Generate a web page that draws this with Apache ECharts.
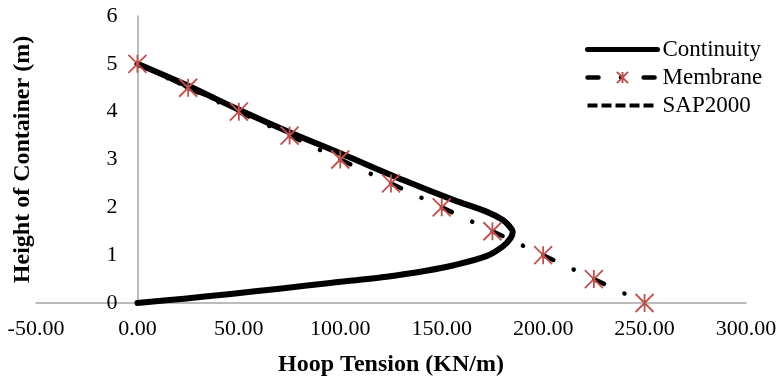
<!DOCTYPE html>
<html><head><meta charset="utf-8">
<script src="https://cdn.jsdelivr.net/npm/echarts@6/dist/echarts.min.js"></script>
<style>html,body{margin:0;padding:0;background:#fff}#c{width:784px;height:381px}</style>
</head><body><div id="c"></div>
<script>
const seriesNames = ['Continuity', 'Membrane', 'SAP2000'];
const continuityX = [0, 23, 46, 70, 95, 123, 143, 156, 172, 180, 184, 185, 183, 180, 172, 156, 131, 100, 75, 50, 25, 0];
const continuityY = [0, 0.09, 0.19, 0.3, 0.42, 0.55, 0.68, 0.79, 0.98, 1.18, 1.36, 1.49, 1.62, 1.74, 1.91, 2.15, 2.57, 3.13, 3.57, 4.04, 4.54, 5];
const membraneX = [0, 25, 50, 75, 100, 125, 150, 175, 200, 225, 250];
const membraneY = [5, 4.5, 4, 3.5, 3, 2.5, 2, 1.5, 1, 0.5, 0];
const sapX = [0, 59, 112, 151, 173, 182, 185, 180, 166, 150, 135, 121, 107, 93, 79, 65, 52, 39, 25, 13, 0];
const sapY = [0, 0.25, 0.5, 0.75, 1, 1.25, 1.5, 1.75, 2, 2.25, 2.5, 2.75, 3, 3.25, 3.5, 3.75, 4, 4.25, 4.5, 4.75, 5];
const xTicks = [-50, 0, 50, 100, 150, 200, 250, 300];
const yTicks = [0, 1, 2, 3, 4, 5, 6];

const FONT = "'Liberation Serif','Times New Roman',serif";
const pairs = (xs, ys) => xs.map((x, i) => [x, ys[i]]);
const star = 'path://M0,0L10,10M10,0L0,10M5,0L5,10';
const axisGray = '#A6A6A6';
const hidden = {color: 'rgba(0,0,0,0)', borderColor: 'rgba(0,0,0,0)', borderWidth: 0};

const GRID = {left: 36, right: 38, top: 16, bottom: 78};
const plotW = 784 - GRID.left - GRID.right;
// shift the y axis from the left edge (x=-50) to x=0
const yAxisShift = plotW * (0 - xTicks[0]) / (xTicks[xTicks.length - 1] - xTicks[0]);

const chart = echarts.init(document.getElementById('c'), null, {renderer: 'canvas'});
chart.setOption({
  animation: false,
  backgroundColor: '#fff',
  textStyle: {fontFamily: FONT, color: '#000'},
  grid: Object.assign({containLabel: false, outerBoundsMode: 'none'}, GRID),
  legend: {
    orient: 'vertical', left: 580, top: 33,
    itemWidth: 70, itemHeight: 14, itemGap: 5,
    textStyle: {fontFamily: FONT, fontSize: 23, color: '#000'},
    data: [
      {name: seriesNames[0], itemStyle: hidden, lineStyle: {width: 5}},
      {name: seriesNames[1], lineStyle: {width: 4.5}},
      {name: seriesNames[2], itemStyle: hidden, lineStyle: {width: 4}}
    ]
  },
  xAxis: {
    type: 'value', min: xTicks[0], max: xTicks[xTicks.length - 1], interval: xTicks[1] - xTicks[0],
    name: 'Hoop Tension (KN/m)', nameLocation: 'middle', nameGap: 50,
    nameTextStyle: {fontFamily: FONT, fontSize: 24, fontWeight: 'bold', color: '#000'},
    axisLine: {lineStyle: {color: axisGray, width: 1.5}},
    axisTick: {show: false},
    splitLine: {show: false},
    axisLabel: {fontFamily: FONT, fontSize: 22, color: '#000', margin: 15, formatter: v => v.toFixed(2)}
  },
  yAxis: {
    type: 'value', min: yTicks[0], max: yTicks[yTicks.length - 1], interval: yTicks[1] - yTicks[0],
    offset: -yAxisShift,
    name: 'Height of Container (m)', nameLocation: 'middle', nameGap: 103,
    nameTextStyle: {fontFamily: FONT, fontSize: 24, fontWeight: 'bold', color: '#000'},
    axisLine: {onZero: false, lineStyle: {color: axisGray, width: 1.5}},
    axisTick: {show: false},
    splitLine: {show: false},
    axisLabel: {fontFamily: FONT, fontSize: 22, color: '#000', margin: 20}
  },
  series: [
    {
      name: seriesNames[0], type: 'line', data: pairs(continuityX, continuityY),
      smooth: 0.3, symbol: 'none',
      lineStyle: {color: '#000', width: 6, cap: 'round', join: 'round'},
      itemStyle: {color: '#000'}, z: 2
    },
    {
      name: seriesNames[1], type: 'line', data: pairs(membraneX, membraneY),
      symbol: star, symbolSize: 18, showSymbol: true,
      lineStyle: {color: '#000', width: 4.5, type: [11, 22.5, 0.1, 22.5], cap: 'round'},
      itemStyle: {color: '#C0504D', borderColor: '#C0504D', borderWidth: 1.8}, z: 3
    },
    {
      name: seriesNames[2], type: 'line', data: pairs(sapX, sapY),
      smooth: 0.3, symbol: 'none',
      lineStyle: {color: '#000', width: 4, type: [10, 4]},
      itemStyle: {color: '#000'}, z: 1
    }
  ]
});
</script></body></html>
